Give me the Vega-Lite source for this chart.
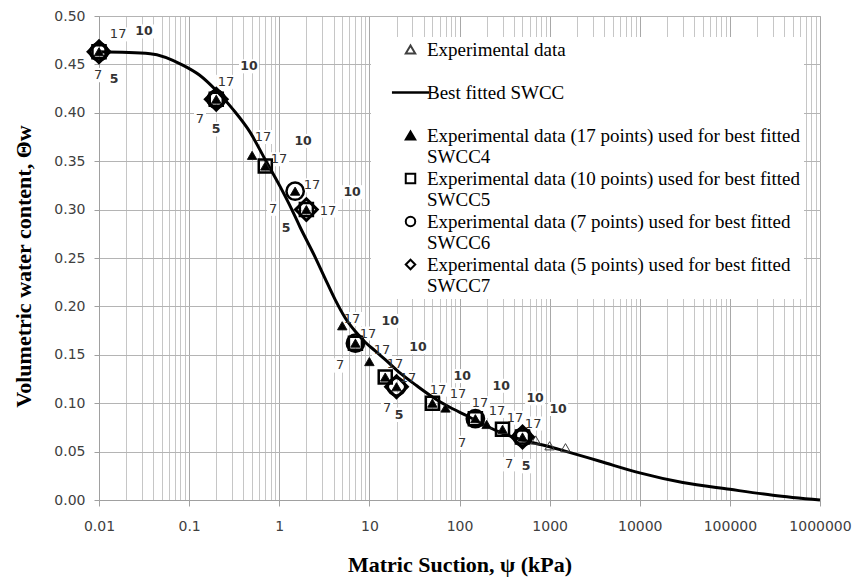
{
  "$schema": "https://vega.github.io/schema/vega-lite/v6.json",
  "width": 721,
  "height": 484,
  "autosize": {"type": "none"},
  "padding": {"left": 99, "top": 16, "right": 34, "bottom": 79},
  "background": "white",
  "config": {
    "view": {"stroke": "#a6a6a6", "strokeWidth": 1},
    "axis": {
      "labelFont": "DejaVu Sans",
      "labelFontSize": 14,
      "labelColor": "#404040",
      "domainColor": "#a0a0a0",
      "tickColor": "#a0a0a0",
      "titleFont": "Liberation Serif",
      "titleFontSize": 22,
      "titleFontWeight": "bold",
      "titleColor": "black",
      "labelOverlap": false,
      "labelBound": false,
      "labelFlush": false
    },
    "legend": {
      "orient": "none",
      "legendX": 272,
      "legendY": 21,
      "direction": "vertical",
      "fillColor": "white",
      "padding": 3,
      "labelFont": "Liberation Serif",
      "labelFontSize": 19,
      "labelColor": "black",
      "labelLimit": 700,
      "labelOffset": 7,
      "symbolOffset": 27,
      "symbolSize": 90,
      "symbolStrokeWidth": 2,
      "symbolOpacity": 1,
      "rowPadding": 2
    }
  },
  "datasets": {
    "curve": [
      {"x": 0.01, "y": 0.463}, {"x": 0.037, "y": 0.461}, {"x": 0.086, "y": 0.449},
      {"x": 0.13, "y": 0.439}, {"x": 0.2, "y": 0.423}, {"x": 0.31, "y": 0.403},
      {"x": 0.474, "y": 0.38}, {"x": 0.695, "y": 0.352}, {"x": 1.02, "y": 0.324},
      {"x": 1.38, "y": 0.3}, {"x": 1.7, "y": 0.282}, {"x": 2.5, "y": 0.251},
      {"x": 3.22, "y": 0.229}, {"x": 4.17, "y": 0.207}, {"x": 5.4, "y": 0.188},
      {"x": 7.0, "y": 0.174}, {"x": 9.0, "y": 0.163}, {"x": 11.6, "y": 0.154},
      {"x": 15, "y": 0.145}, {"x": 22, "y": 0.131}, {"x": 33.6, "y": 0.118},
      {"x": 51, "y": 0.106}, {"x": 79, "y": 0.0955}, {"x": 121, "y": 0.087},
      {"x": 184, "y": 0.078}, {"x": 282, "y": 0.07}, {"x": 500, "y": 0.062},
      {"x": 1000, "y": 0.055}, {"x": 1420, "y": 0.051}, {"x": 3620, "y": 0.04},
      {"x": 10000, "y": 0.028}, {"x": 30000, "y": 0.018}, {"x": 100000, "y": 0.011},
      {"x": 300000, "y": 0.005}, {"x": 1000000, "y": 0.0}
    ],
    "pts": [
      {"series": "Experimental data", "x": 0.01, "y": 0.463},
      {"series": "Experimental data", "x": 0.2, "y": 0.414},
      {"series": "Experimental data", "x": 0.5, "y": 0.356},
      {"series": "Experimental data", "x": 0.7, "y": 0.345},
      {"series": "Experimental data", "x": 1.5, "y": 0.319},
      {"series": "Experimental data", "x": 2, "y": 0.3},
      {"series": "Experimental data", "x": 5, "y": 0.18},
      {"series": "Experimental data", "x": 7, "y": 0.162},
      {"series": "Experimental data", "x": 10, "y": 0.143},
      {"series": "Experimental data", "x": 15, "y": 0.127},
      {"series": "Experimental data", "x": 20, "y": 0.117},
      {"series": "Experimental data", "x": 50, "y": 0.1},
      {"series": "Experimental data", "x": 70, "y": 0.095},
      {"series": "Experimental data", "x": 150, "y": 0.084},
      {"series": "Experimental data", "x": 200, "y": 0.078},
      {"series": "Experimental data", "x": 300, "y": 0.073},
      {"series": "Experimental data", "x": 500, "y": 0.065},
      {"series": "Experimental data", "x": 700, "y": 0.062},
      {"series": "Experimental data", "x": 1000, "y": 0.056},
      {"series": "Experimental data", "x": 1500, "y": 0.054},

      {"series": "Experimental data (5 points) used for best fitted SWCC7", "x": 0.01, "y": 0.463},
      {"series": "Experimental data (5 points) used for best fitted SWCC7", "x": 0.2, "y": 0.414},
      {"series": "Experimental data (5 points) used for best fitted SWCC7", "x": 2, "y": 0.3},
      {"series": "Experimental data (5 points) used for best fitted SWCC7", "x": 20, "y": 0.117},
      {"series": "Experimental data (5 points) used for best fitted SWCC7", "x": 500, "y": 0.065},

      {"series": "Experimental data (7 points) used for best fitted SWCC6", "x": 0.01, "y": 0.463},
      {"series": "Experimental data (7 points) used for best fitted SWCC6", "x": 0.2, "y": 0.414},
      {"series": "Experimental data (7 points) used for best fitted SWCC6", "x": 1.5, "y": 0.319},
      {"series": "Experimental data (7 points) used for best fitted SWCC6", "x": 7, "y": 0.162},
      {"series": "Experimental data (7 points) used for best fitted SWCC6", "x": 20, "y": 0.117},
      {"series": "Experimental data (7 points) used for best fitted SWCC6", "x": 150, "y": 0.084},
      {"series": "Experimental data (7 points) used for best fitted SWCC6", "x": 500, "y": 0.065},

      {"series": "Experimental data (10 points) used for best fitted SWCC5", "x": 0.01, "y": 0.463},
      {"series": "Experimental data (10 points) used for best fitted SWCC5", "x": 0.2, "y": 0.414},
      {"series": "Experimental data (10 points) used for best fitted SWCC5", "x": 0.7, "y": 0.345},
      {"series": "Experimental data (10 points) used for best fitted SWCC5", "x": 2, "y": 0.3},
      {"series": "Experimental data (10 points) used for best fitted SWCC5", "x": 7, "y": 0.162},
      {"series": "Experimental data (10 points) used for best fitted SWCC5", "x": 15, "y": 0.127},
      {"series": "Experimental data (10 points) used for best fitted SWCC5", "x": 50, "y": 0.1},
      {"series": "Experimental data (10 points) used for best fitted SWCC5", "x": 150, "y": 0.084},
      {"series": "Experimental data (10 points) used for best fitted SWCC5", "x": 300, "y": 0.073},
      {"series": "Experimental data (10 points) used for best fitted SWCC5", "x": 500, "y": 0.065},

      {"series": "Experimental data (17 points) used for best fitted SWCC4", "x": 0.01, "y": 0.463},
      {"series": "Experimental data (17 points) used for best fitted SWCC4", "x": 0.2, "y": 0.414},
      {"series": "Experimental data (17 points) used for best fitted SWCC4", "x": 0.5, "y": 0.356},
      {"series": "Experimental data (17 points) used for best fitted SWCC4", "x": 0.7, "y": 0.345},
      {"series": "Experimental data (17 points) used for best fitted SWCC4", "x": 1.5, "y": 0.319},
      {"series": "Experimental data (17 points) used for best fitted SWCC4", "x": 2, "y": 0.3},
      {"series": "Experimental data (17 points) used for best fitted SWCC4", "x": 5, "y": 0.18},
      {"series": "Experimental data (17 points) used for best fitted SWCC4", "x": 7, "y": 0.162},
      {"series": "Experimental data (17 points) used for best fitted SWCC4", "x": 10, "y": 0.143},
      {"series": "Experimental data (17 points) used for best fitted SWCC4", "x": 15, "y": 0.127},
      {"series": "Experimental data (17 points) used for best fitted SWCC4", "x": 20, "y": 0.117},
      {"series": "Experimental data (17 points) used for best fitted SWCC4", "x": 50, "y": 0.1},
      {"series": "Experimental data (17 points) used for best fitted SWCC4", "x": 70, "y": 0.095},
      {"series": "Experimental data (17 points) used for best fitted SWCC4", "x": 150, "y": 0.084},
      {"series": "Experimental data (17 points) used for best fitted SWCC4", "x": 200, "y": 0.078},
      {"series": "Experimental data (17 points) used for best fitted SWCC4", "x": 300, "y": 0.073},
      {"series": "Experimental data (17 points) used for best fitted SWCC4", "x": 500, "y": 0.065}
    ],
    "labels": [
      {"t": "17", "x": 0.0163, "y": 0.481}, {"t": "17", "x": 0.257, "y": 0.432},
      {"t": "17", "x": 0.661, "y": 0.375}, {"t": "17", "x": 0.996, "y": 0.352},
      {"t": "17", "x": 2.31, "y": 0.325}, {"t": "17", "x": 3.48, "y": 0.299},
      {"t": "17", "x": 6.43, "y": 0.187}, {"t": "17", "x": 9.68, "y": 0.172},
      {"t": "17", "x": 13.8, "y": 0.155}, {"t": "17", "x": 19.3, "y": 0.141},
      {"t": "17", "x": 26.9, "y": 0.126}, {"t": "17", "x": 57.9, "y": 0.114},
      {"t": "17", "x": 96.4, "y": 0.109}, {"t": "17", "x": 169, "y": 0.1},
      {"t": "17", "x": 261, "y": 0.092}, {"t": "17", "x": 414, "y": 0.085},
      {"t": "17", "x": 656, "y": 0.079},
      {"t": "10", "x": 0.0316, "y": 0.484}, {"t": "10", "x": 0.462, "y": 0.448},
      {"t": "10", "x": 1.84, "y": 0.371}, {"t": "10", "x": 6.43, "y": 0.318},
      {"t": "10", "x": 17.0, "y": 0.185}, {"t": "10", "x": 34.7, "y": 0.158},
      {"t": "10", "x": 107, "y": 0.128}, {"t": "10", "x": 290, "y": 0.118},
      {"t": "10", "x": 690, "y": 0.105}, {"t": "10", "x": 1242, "y": 0.094},
      {"t": "7", "x": 0.0098, "y": 0.439}, {"t": "7", "x": 0.132, "y": 0.394},
      {"t": "7", "x": 0.853, "y": 0.301}, {"t": "7", "x": 4.73, "y": 0.139},
      {"t": "7", "x": 15.7, "y": 0.095}, {"t": "7", "x": 107, "y": 0.059},
      {"t": "7", "x": 355, "y": 0.037},
      {"t": "5", "x": 0.0147, "y": 0.435}, {"t": "5", "x": 0.199, "y": 0.383},
      {"t": "5", "x": 1.19, "y": 0.281}, {"t": "5", "x": 21.4, "y": 0.088},
      {"t": "5", "x": 548, "y": 0.035}
    ]
  },
  "encoding": {
    "x": {
      "field": "x", "type": "quantitative",
      "scale": {"type": "log", "domain": [0.01, 1000000], "nice": false},
      "axis": {
        "title": "Matric Suction, ψ (kPa)",
        "values": [0.01,0.02,0.03,0.04,0.05,0.06,0.07,0.08,0.09,
                   0.1,0.2,0.3,0.4,0.5,0.6,0.7,0.8,0.9,
                   1,2,3,4,5,6,7,8,9,
                   10,20,30,40,50,60,70,80,90,
                   100,200,300,400,500,600,700,800,900,
                   1000,2000,3000,4000,5000,6000,7000,8000,9000,
                   10000,20000,30000,40000,50000,60000,70000,80000,90000,
                   100000,200000,300000,400000,500000,600000,700000,800000,900000,
                   1000000],
        "labelExpr": "indexof([0.01,0.1,1,10,100,1000,10000,100000,1000000], datum.value) >= 0 ? '' + datum.value : ''",
        "grid": true,
        "gridColor": {"condition": {"test": "indexof([0.01,0.1,1,10,100,1000,10000,100000,1000000], datum.value) >= 0", "value": "#a8a8a8"}, "value": "#c6c6c6"},
        "tickOpacity": {"condition": {"test": "indexof([0.01,0.1,1,10,100,1000,10000,100000,1000000], datum.value) >= 0", "value": 1}, "value": 0},
        "tickSize": 6,
        "labelPadding": 13,
        "titlePadding": 21
      }
    },
    "y": {
      "field": "y", "type": "quantitative",
      "scale": {"domain": [0, 0.5], "nice": false},
      "axis": {
        "title": "Volumetric water content, Θw",
        "values": [0, 0.05, 0.1, 0.15, 0.2, 0.25, 0.3, 0.35, 0.4, 0.45, 0.5],
        "format": ".2f",
        "grid": true,
        "gridColor": "#b4b4b4",
        "tickSize": 5,
        "labelPadding": 9,
        "titlePadding": 18,
        "titleY": 250
      }
    }
  },
  "layer": [
    {
      "data": {"name": "labels"},
      "transform": [{"filter": "length(datum.t) == 2"}],
      "mark": {"type": "point", "shape": "M-1,-0.7H1V0.7H-1Z", "filled": true, "fill": "white", "strokeWidth": 0, "size": 400, "opacity": 1}
    },
    {
      "data": {"name": "labels"},
      "transform": [{"filter": "length(datum.t) == 1"}],
      "mark": {"type": "point", "shape": "M-1,-1.2H1V1.2H-1Z", "filled": true, "fill": "white", "strokeWidth": 0, "size": 144, "opacity": 1}
    },
    {
      "data": {"name": "curve"},
      "mark": {"type": "line", "color": "black", "strokeWidth": 3, "interpolate": "monotone"}
    },
    {
      "data": {"name": "pts"},
      "encoding": {
        "shape": {
          "field": "series", "type": "nominal",
          "scale": {
            "domain": ["Experimental data", "Best fitted SWCC",
                       "Experimental data (17 points) used for best fitted SWCC4",
                       "Experimental data (10 points) used for best fitted SWCC5",
                       "Experimental data (7 points) used for best fitted SWCC6",
                       "Experimental data (5 points) used for best fitted SWCC7"],
            "range": ["triangle-up", "M-3.7,-0.06H3.7V0.06H-3.7Z", "triangle-up", "square", "circle", "diamond"]
          },
          "legend": {
            "title": null,
            "labelExpr": "length(datum.label) > 30 ? [slice(datum.label, 0, lastindexof(datum.label, ' ')), slice(datum.label, lastindexof(datum.label, ' ') + 1)] : [datum.label, ' ']",
            "encode": {"labels": {"lineHeight": {"value": 21}}}
          }
        },
        "fill": {
          "field": "series", "type": "nominal",
          "scale": {
            "domain": ["Experimental data", "Best fitted SWCC",
                       "Experimental data (17 points) used for best fitted SWCC4",
                       "Experimental data (10 points) used for best fitted SWCC5",
                       "Experimental data (7 points) used for best fitted SWCC6",
                       "Experimental data (5 points) used for best fitted SWCC7"],
            "range": ["transparent", "black", "black", "transparent", "transparent", "transparent"]
          },
          "legend": {
            "title": null,
            "labelExpr": "length(datum.label) > 30 ? [slice(datum.label, 0, lastindexof(datum.label, ' ')), slice(datum.label, lastindexof(datum.label, ' ') + 1)] : [datum.label, ' ']",
            "encode": {"labels": {"lineHeight": {"value": 21}}}
          }
        },
        "stroke": {
          "field": "series", "type": "nominal",
          "scale": {
            "domain": ["Experimental data", "Best fitted SWCC",
                       "Experimental data (17 points) used for best fitted SWCC4",
                       "Experimental data (10 points) used for best fitted SWCC5",
                       "Experimental data (7 points) used for best fitted SWCC6",
                       "Experimental data (5 points) used for best fitted SWCC7"],
            "range": ["#404040", "black", "black", "black", "black", "black"]
          },
          "legend": {
            "title": null,
            "labelExpr": "length(datum.label) > 30 ? [slice(datum.label, 0, lastindexof(datum.label, ' ')), slice(datum.label, lastindexof(datum.label, ' ') + 1)] : [datum.label, ' ']",
            "encode": {"labels": {"lineHeight": {"value": 21}}}
          }
        }
      },
      "layer": [
        {
          "transform": [{"filter": "datum.series === 'Experimental data'"}],
          "mark": {"type": "point", "size": 90, "strokeWidth": 1, "opacity": 1}
        },
        {
          "transform": [{"filter": "datum.series === 'Experimental data (5 points) used for best fitted SWCC7'"}],
          "mark": {"type": "point", "size": 470, "strokeWidth": 3, "opacity": 1}
        },
        {
          "transform": [{"filter": "datum.series === 'Experimental data (7 points) used for best fitted SWCC6'"}],
          "mark": {"type": "point", "size": 300, "strokeWidth": 2.5, "opacity": 1}
        },
        {
          "transform": [{"filter": "datum.series === 'Experimental data (10 points) used for best fitted SWCC5'"}],
          "mark": {"type": "point", "size": 170, "strokeWidth": 2.5, "opacity": 1}
        },
        {
          "transform": [{"filter": "datum.series === 'Experimental data (17 points) used for best fitted SWCC4'"}],
          "mark": {"type": "point", "size": 80, "strokeWidth": 0.5, "opacity": 1}
        }
      ]
    },
    {
      "data": {"name": "labels"},
      "transform": [{"filter": "datum.t === '17' || datum.t === '7'"}],
      "mark": {"type": "text", "font": "DejaVu Sans", "fontSize": 13, "color": "#333333", "align": "center", "baseline": "middle"},
      "encoding": {"text": {"field": "t", "type": "nominal"}}
    },
    {
      "data": {"name": "labels"},
      "transform": [{"filter": "datum.t === '10' || datum.t === '5'"}],
      "mark": {"type": "text", "font": "DejaVu Sans", "fontSize": 12.5, "fontWeight": "bold", "color": "#333333", "align": "center", "baseline": "middle"},
      "encoding": {"text": {"field": "t", "type": "nominal"}}
    }
  ]
}
